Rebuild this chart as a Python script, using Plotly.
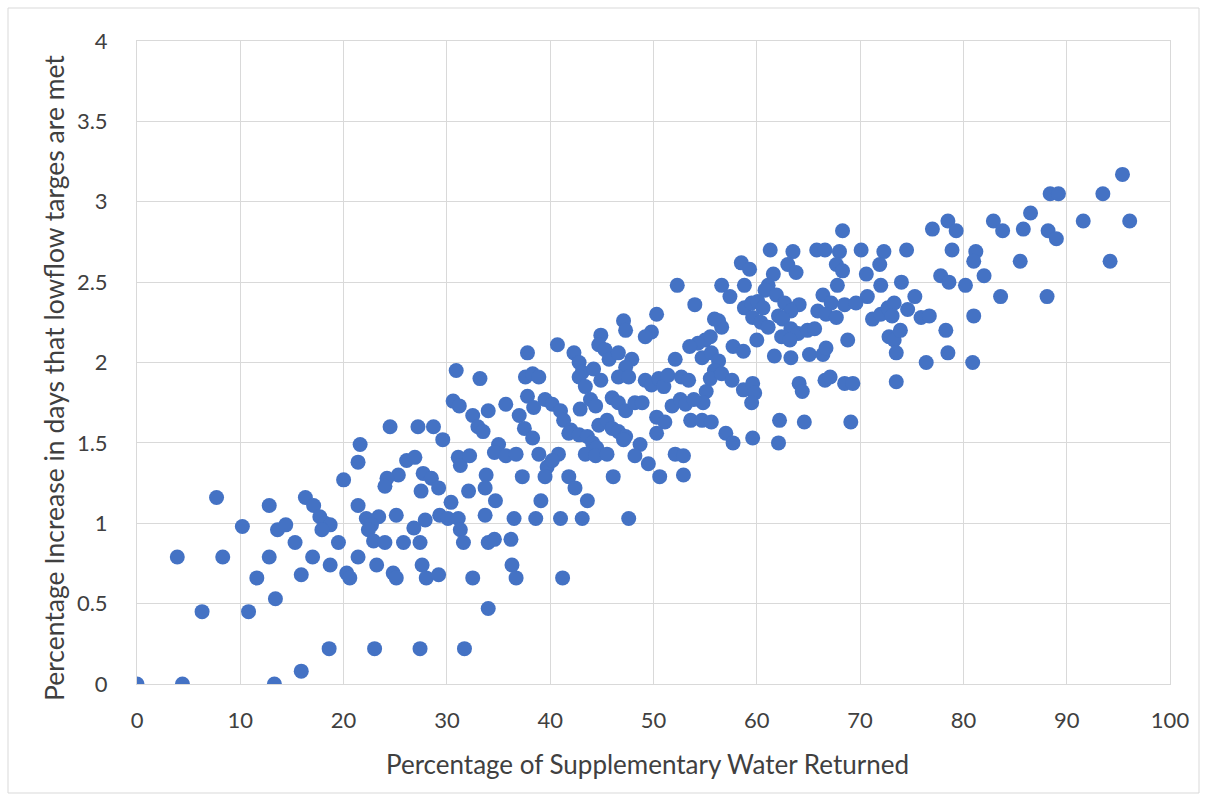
import plotly.graph_objects as go

pts_a = [(30.9,1.95),(33.2,1.90),(30.6,1.76),(31.2,1.73),(32.5,1.67),(33.0,1.60),(33.5,1.57),(34.0,1.70),(24.5,1.60),(27.2,1.60),(28.7,1.60),(29.6,1.52),(21.6,1.49),(21.4,1.38),(20.0,1.27),(26.1,1.39),(26.9,1.41),(25.3,1.30),(24.2,1.28),(24.0,1.23),(27.7,1.31),(28.5,1.28),(27.5,1.20),(29.2,1.22),(31.1,1.41),(31.3,1.36),(32.2,1.42),(32.1,1.20),(33.7,1.22),(33.8,1.30),(30.4,1.13),(29.3,1.05),(30.1,1.03),(31.1,1.03),(33.7,1.05),(31.3,0.96),(31.6,0.88),(34.0,0.88),(32.5,0.66),(34.0,0.47),(7.7,1.16),(12.8,1.11),(16.3,1.16),(17.1,1.11),(17.7,1.04),(18.2,1.00),(18.7,0.99),(17.9,0.96),(10.2,0.98),(13.6,0.96),(14.4,0.99),(15.3,0.88),(19.5,0.88),(21.4,1.11),(22.2,1.03),(23.4,1.04),(22.7,0.99),(22.4,0.96),(22.9,0.89),(24.0,0.88),(25.8,0.88),(25.1,1.05),(26.8,0.97),(27.4,0.88),(27.9,1.02),(3.9,0.79),(8.3,0.79),(12.8,0.79),(17.0,0.79),(21.4,0.79),(18.7,0.74),(20.3,0.69),(20.6,0.66),(15.9,0.68),(11.6,0.66),(23.2,0.74),(24.8,0.69),(25.1,0.66),(27.6,0.74),(28.0,0.66),(29.2,0.68),(13.4,0.53),(6.3,0.45),(10.8,0.45),(18.6,0.22),(23.0,0.22),(27.4,0.22),(31.7,0.22),(15.9,0.08),(0,0),(4.4,0),(13.3,0)]

pts_b = [(50.3,2.30),(47.1,2.26),(47.3,2.20),(49.8,2.19),(49.2,2.16),(44.9,2.17),(44.7,2.11),(45.3,2.08),(45.7,2.02),(40.7,2.11),(37.8,2.06),(42.3,2.06),(42.8,2.00),(43.1,1.94),(42.8,1.91),(46.6,2.06),(47.9,2.02),(47.3,1.97),(46.6,1.91),(47.6,1.91),(44.2,1.96),(44.9,1.89),(43.4,1.85),(37.6,1.91),(38.3,1.93),(38.9,1.91),(35.7,1.74),(37.0,1.67),(37.5,1.59),(38.3,1.53),(37.8,1.79),(38.4,1.72),(39.5,1.77),(40.2,1.74),(41.0,1.70),(41.3,1.64),(42.0,1.58),(41.8,1.56),(42.8,1.55),(43.6,1.54),(44.1,1.50),(44.5,1.47),(42.9,1.71),(43.9,1.77),(44.4,1.73),(46.0,1.78),(46.6,1.75),(47.3,1.70),(48.2,1.75),(48.9,1.75),(44.7,1.61),(45.5,1.64),(46.0,1.59),(46.6,1.57),(47.3,1.54),(47.1,1.52),(49.2,1.89),(49.8,1.86),(50.5,1.90),(51.0,1.85),(51.4,1.92),(50.3,1.66),(51.1,1.63),(50.3,1.56),(51.8,1.73),(52.1,2.02),(48.7,1.49),(48.2,1.42),(49.5,1.37),(50.6,1.29),(52.1,1.43),(43.4,1.43),(44.4,1.42),(45.5,1.43),(46.1,1.29),(35.0,1.49),(34.6,1.44),(35.7,1.42),(36.7,1.43),(38.9,1.43),(39.7,1.35),(40.8,1.43),(40.2,1.39),(37.3,1.29),(39.5,1.29),(41.8,1.29),(42.4,1.22),(43.6,1.14),(39.1,1.14),(34.7,1.14),(36.5,1.03),(38.6,1.03),(41.0,1.03),(43.1,1.03),(47.6,1.03),(36.2,0.90),(34.6,0.90),(36.3,0.74),(36.7,0.66),(41.2,0.66)]

pts_c = [(68.3,2.82),(61.3,2.70),(63.5,2.69),(63.0,2.61),(63.8,2.56),(65.8,2.70),(66.6,2.70),(68.0,2.69),(67.7,2.61),(68.3,2.57),(70.1,2.70),(72.3,2.69),(71.9,2.61),(70.6,2.55),(72.0,2.48),(70.7,2.41),(58.5,2.62),(59.3,2.58),(61.6,2.55),(58.8,2.48),(56.6,2.48),(57.4,2.41),(61.1,2.48),(60.8,2.45),(52.3,2.48),(54.0,2.36),(67.8,2.48),(66.4,2.42),(67.2,2.37),(65.9,2.32),(66.7,2.30),(67.7,2.28),(68.5,2.36),(69.6,2.37),(61.9,2.42),(62.7,2.37),(64.1,2.36),(63.3,2.32),(58.8,2.34),(59.5,2.37),(60.1,2.38),(60.6,2.34),(59.6,2.28),(60.4,2.25),(61.1,2.22),(62.1,2.29),(62.5,2.27),(63.3,2.21),(64.0,2.18),(64.9,2.20),(65.6,2.21),(62.4,2.16),(63.2,2.14),(60.0,2.14),(68.8,2.14),(71.2,2.27),(72.0,2.30),(72.7,2.34),(73.3,2.37),(73.1,2.29),(72.8,2.16),(73.3,2.14),(73.5,2.06),(61.7,2.04),(63.3,2.03),(65.1,2.05),(66.4,2.05),(66.7,2.09),(57.7,2.10),(58.7,2.07),(56.3,2.26),(56.6,2.22),(55.9,2.27),(55.5,2.16),(55.0,2.14),(54.3,2.12),(53.5,2.10),(54.7,2.03),(55.6,2.06),(56.3,2.01),(55.9,1.95),(55.5,1.90),(56.6,1.93),(57.6,1.89),(55.1,1.82),(54.8,1.75),(52.7,1.91),(53.4,1.89),(52.6,1.77),(53.1,1.74),(53.9,1.77),(53.6,1.64),(54.7,1.64),(55.6,1.63),(57.0,1.56),(57.7,1.50),(59.6,1.53),(58.7,1.83),(59.6,1.87),(59.8,1.81),(59.5,1.75),(62.1,1.50),(62.2,1.64),(64.1,1.87),(64.4,1.82),(64.6,1.63),(66.6,1.89),(67.1,1.91),(68.5,1.87),(69.3,1.87),(69.1,1.63),(73.5,1.88),(52.9,1.42),(52.9,1.30)]

pts_d = [(95.4,3.17),(88.4,3.05),(89.2,3.05),(93.5,3.05),(86.5,2.93),(82.9,2.88),(83.8,2.82),(85.8,2.83),(88.2,2.82),(89.0,2.77),(91.6,2.88),(96.1,2.88),(77.0,2.83),(78.5,2.88),(79.3,2.82),(74.5,2.70),(78.9,2.70),(81.2,2.69),(81.0,2.63),(85.5,2.63),(94.2,2.63),(77.8,2.54),(78.6,2.50),(80.2,2.48),(82.0,2.54),(83.6,2.41),(88.1,2.41),(74.0,2.50),(75.3,2.41),(74.6,2.33),(75.9,2.28),(76.7,2.29),(81.0,2.29),(78.3,2.20),(73.9,2.20),(76.4,2.00),(78.5,2.06),(80.9,2.00)]

pts = pts_a + pts_b + pts_c + pts_d
water_returned = [p[0] for p in pts]
pct_increase = [p[1] for p in pts]

x_ticks = list(range(0, 101, 10))
y_ticks = [0, 0.5, 1, 1.5, 2, 2.5, 3, 3.5, 4]
x_title = "Percentage of Supplementary Water Returned"
y_title = "Percentage Increase in days that lowflow targes are met"

FONT = "Lato"
GRID = "#d9d9d9"
TXT = "#404040"

fig = go.Figure(go.Scatter(
    x=water_returned, y=pct_increase, mode="markers",
    marker=dict(size=15, color="#4472c4", line=dict(width=0)),
    hoverinfo="x+y"))

W, H = 1207, 801
L, R, T, B = 137, 37, 41, 117
pw, ph = W - L - R, H - T - B

def px_x(p):
    return (p - L) / pw

def px_y(p):
    return (H - B - p) / ph

fig.update_layout(
    width=W, height=H,
    margin=dict(l=L, r=R, t=T, b=B),
    paper_bgcolor="white", plot_bgcolor="white",
    showlegend=False,
    font=dict(family=FONT, color=TXT, size=18),
    xaxis=dict(range=[0, 100], tickvals=x_ticks, showgrid=True, gridcolor=GRID, gridwidth=1,
               zeroline=False, showline=True, linecolor=GRID, mirror=True,
               ticks="", ticklabelstandoff=17, tickfont=dict(size=22, family=FONT, color=TXT)),
    yaxis=dict(range=[0, 4], tickvals=y_ticks, showgrid=True, gridcolor=GRID, gridwidth=1,
               zeroline=False, showline=True, linecolor=GRID, mirror=True,
               ticks="", ticklabelstandoff=24, tickfont=dict(size=22, family=FONT, color=TXT)),
    annotations=[
        dict(text=x_title, xref="paper", yref="paper", x=px_x(647), y=px_y(764),
             xanchor="center", yanchor="middle", showarrow=False,
             font=dict(size=26, family=FONT, color=TXT)),
        dict(text=y_title, xref="paper", yref="paper", x=px_x(54), y=px_y(378),
             xanchor="center", yanchor="middle", showarrow=False, textangle=-90,
             font=dict(size=26.5, family=FONT, color=TXT)),
    ],
    shapes=[dict(type="rect", xref="paper", yref="paper",
                 x0=px_x(8), x1=px_x(1199), y0=px_y(793), y1=px_y(8),
                 line=dict(color=GRID, width=1), fillcolor="rgba(0,0,0,0)", layer="below")],
)

fig.write_html("out.html")
